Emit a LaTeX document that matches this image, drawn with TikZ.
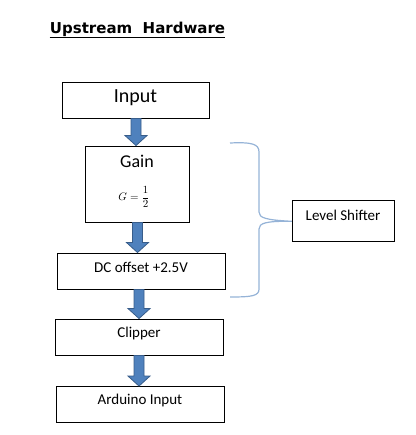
\documentclass[tikz,border=0pt]{standalone}
\usepackage{fontspec}
\setmainfont{Carlito}
\newfontfamily\titlefont{DejaVu Sans}
\usetikzlibrary{calc}
\definecolor{arrowfill}{HTML}{4F81BD}
\definecolor{arrowline}{HTML}{385D8A}
\definecolor{bracecol}{HTML}{95B3D7}
\tikzset{
  box/.style={draw=black, line width=0.9pt, fill=white, inner sep=0pt},
  lbl/.style={inner sep=0pt, font=\fontsize{15}{18}\selectfont},
  barrowstyle/.style={fill=arrowfill, draw=arrowline, line width=0.8pt, line join=miter},
  bracestyle/.style={draw=bracecol, line width=1.2pt}
}
\newcommand\blockarrow[3]{%
  \filldraw[barrowstyle] let \p1=(#1.south), \p2=(#2.north) in
    (#3pt-5pt,\y1) -- (#3pt+5pt,\y1) -- (#3pt+5pt,\y2+10pt) -- (#3pt+11pt,\y2+10pt)
    -- (#3pt,\y2) -- (#3pt-11pt,\y2+10pt) -- (#3pt-5pt,\y2+10pt) -- cycle;}
\begin{document}
\begin{tikzpicture}[x=1pt,y=-1pt]
\useasboundingbox (0,0) rectangle (415,435);
% title
\node[inner sep=0pt, anchor=base, font=\titlefont\bfseries\fontsize{15}{18}\selectfont] (title) at (137.5,34) {Upstream\ \ Hardware};
\draw[line width=1.4pt] (title.south west) -- (title.south east);
% boxes
\node[box, minimum width=147pt, minimum height=36pt] (input) at (135.5,100) {};
\node[lbl, font=\fontsize{20}{24}\selectfont] (inputtxt) at (135.5,98) {Input};
\node[box, minimum width=104pt, minimum height=76pt] (gain) at (137.3,184) {};
\node[lbl, font=\fontsize{18}{22}\selectfont] (gaintxt) at (137,161) {Gain};
\node[lbl, font=\fontsize{10.5}{12}\selectfont] (gform) at (134,197) {$\displaystyle G=\frac{1}{2}$};
\node[box, minimum width=168pt, minimum height=36pt] (dc) at (141.5,271) {};
\node[lbl] (dctxt) at (141,267) {DC offset +2.5V};
\node[box, minimum width=168pt, minimum height=36pt] (clip) at (139.3,337) {};
\node[lbl] (cliptxt) at (139,333) {Clipper};
\node[box, minimum width=168pt, minimum height=36pt] (ard) at (140.2,404.5) {};
\node[lbl] (ardtxt) at (140,400) {Arduino Input};
\node[box, minimum width=102pt, minimum height=41pt] (ls) at (343.3,221.3) {};
\node[lbl] (lstxt) at (343,215.5) {Level Shifter};
% arrows
\blockarrow{input}{gain}{136}
\blockarrow{gain}{dc}{137.5}
\blockarrow{dc}{clip}{139}
\blockarrow{clip}{ard}{139}
% brace
\coordinate (bt) at (230,143);
\coordinate (bb) at (230,297);
\coordinate (btip) at (ls.west);
\draw[bracestyle] (bt) .. controls (252,142) and (259,144) .. (259,152) -- (259,212)
  .. controls (259,218) and (266,220) .. (btip)
  .. controls (266,221) and (259,223) .. (259,229) -- (259,289)
  .. controls (259,296) and (252,297) .. (bb);
\end{tikzpicture}
\end{document}
